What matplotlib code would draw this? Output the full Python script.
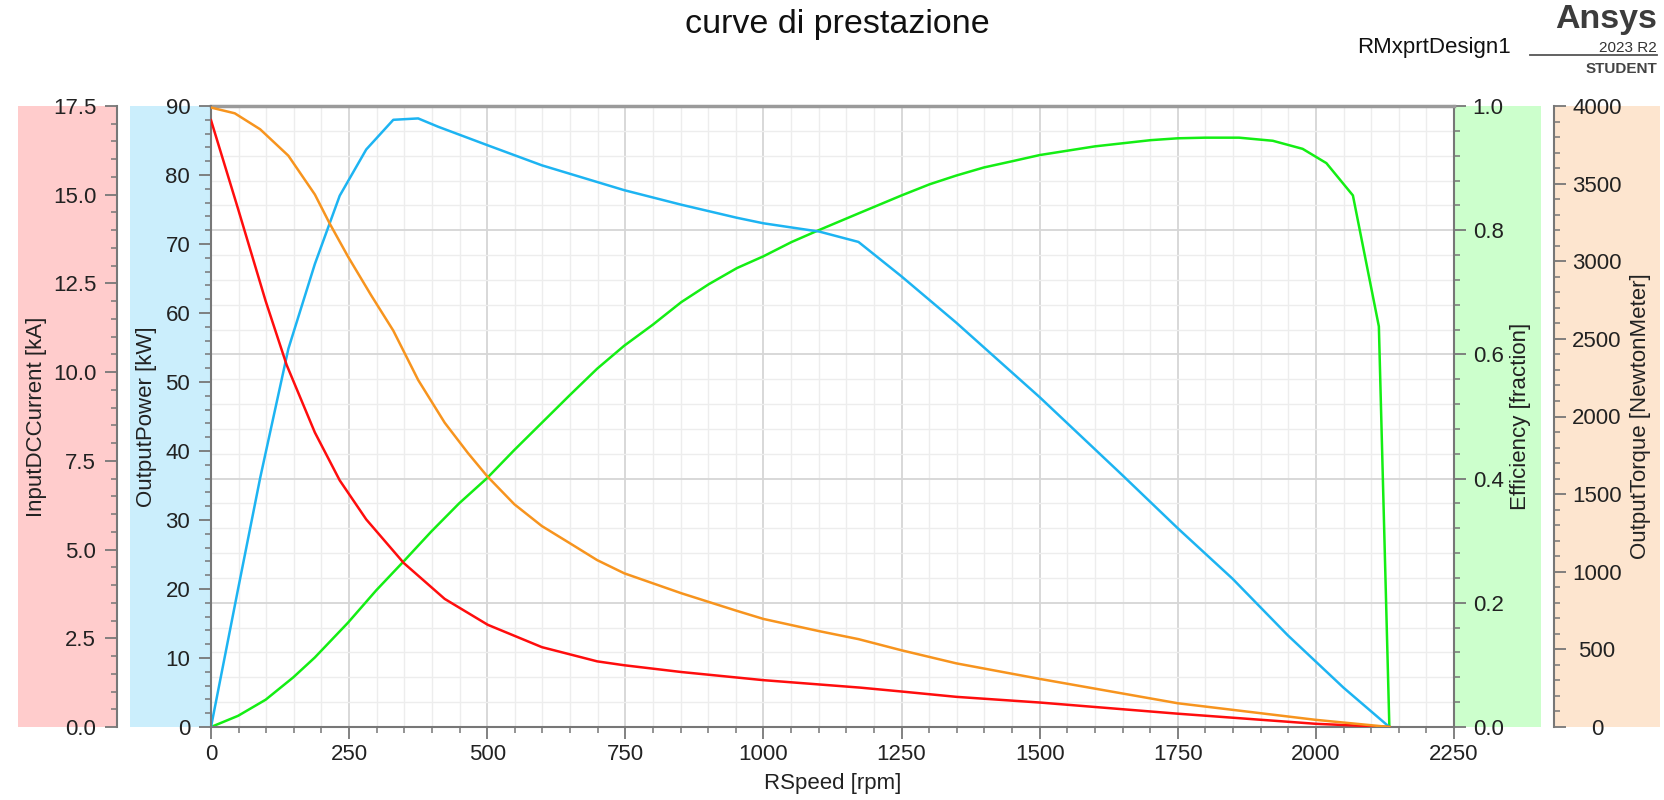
import matplotlib
matplotlib.use("Agg")
import matplotlib.pyplot as plt
from matplotlib.patches import Rectangle
from matplotlib.lines import Line2D
from matplotlib.ticker import MultipleLocator, FormatStrFormatter

plt.rcParams["font.family"] = ["Liberation Sans", "DejaVu Sans"]

# values
power_rpm = [0, 49, 89, 140, 188, 233, 281, 330, 375, 411, 501, 599, 748, 851,
             952, 1000, 1101, 1172, 1250, 1349, 1451, 1500, 1651, 1750, 1849,
             1949, 2050, 2133]
power_kw = [0, 20.0, 36.1, 54.8, 67.1, 77.0, 83.7, 88.0, 88.2, 87.0, 84.3, 81.4,
            77.8, 75.7, 73.8, 73.0, 71.8, 70.3, 65.3, 58.6, 51.3, 47.8, 36.4,
            28.8, 21.5, 13.3, 5.7, 0]

current_rpm = [0, 49, 99, 137, 188, 233, 281, 349, 423, 501, 599, 699, 748, 851,
               1000, 1100, 1175, 1250, 1349, 1500, 1750, 2000, 2133]
current_ka = [17.1, 14.6, 12.0, 10.2, 8.3, 6.95, 5.85, 4.62, 3.61, 2.88, 2.25,
              1.85, 1.74, 1.55, 1.32, 1.20, 1.11, 1.0, 0.85, 0.69, 0.375, 0.09, 0]

torque_rpm = [0, 43, 89, 140, 188, 215, 248, 290, 330, 375, 423, 465, 500, 549,
              599, 649, 699, 748, 851, 952, 1000, 1100, 1172, 1250, 1349, 1450,
              1500, 1750, 2000, 2133]
torque_nm = [3990, 3953, 3850, 3680, 3430, 3242, 3030, 2780, 2553, 2235, 1960,
             1765, 1615, 1435, 1294, 1185, 1075, 990, 862, 748, 696, 618, 566,
             494, 410, 343, 310, 153, 46, 0]

eff_rpm = [0, 49, 99, 149, 188, 248, 299, 349, 399, 449, 500, 549, 599, 649, 699,
           748, 800, 851, 901, 952, 1000, 1051, 1100, 1172, 1250, 1301, 1349,
           1399, 1450, 1500, 1600, 1701, 1750, 1799, 1861, 1922, 1976, 2019,
           2067, 2114, 2133]
eff_frac = [0, 0.018, 0.044, 0.080, 0.112, 0.168, 0.220, 0.267, 0.315, 0.360,
            0.401, 0.446, 0.490, 0.534, 0.577, 0.614, 0.648, 0.684, 0.713, 0.739,
            0.758, 0.781, 0.800, 0.827, 0.856, 0.874, 0.888, 0.901, 0.911, 0.921,
            0.935, 0.945, 0.948, 0.949, 0.949, 0.944, 0.931, 0.908, 0.856,
            0.645, 0]

W, H = 1665, 800
L, R, T, B = 211, 1454, 106, 727   # plot box in pixels
SPINE = "#777777"
TXT = "#222222"


def fx(px):
    return px / W


def fy(py):
    return 1 - py / H


def ax_x(px):
    return (px - L) / (R - L)


fig = plt.figure(figsize=(W / 100, H / 100), dpi=100)
ax = fig.add_axes([fx(L), fy(B), (R - L) / W, (B - T) / H])

# coloured bands behind each y axis
for x0, x1, c in [(18, 117, "#ffcccc"), (130, 211, "#cbeefc"),
                  (1455, 1541, "#ccffcc"), (1553, 1660, "#fde5cf")]:
    fig.add_artist(Rectangle((fx(x0), fy(B)), (x1 - x0) / W, (B - T) / H,
                             transform=fig.transFigure, facecolor=c,
                             edgecolor="none", zorder=-5))


def tick_style(a):
    a.tick_params(which="both", direction="out", colors=SPINE,
                  labelcolor=TXT, labelsize=16)
    a.tick_params(which="major", length=8.5, width=1.3)
    a.tick_params(which="minor", length=4, width=1.1)


def make_twin(side, spine_px, ylim, major, minor, fmt, label, label_px, pad):
    t = ax.twinx()
    for s in ("top", "bottom", "left", "right"):
        t.spines[s].set_visible(False)
    sp = t.spines[side]
    sp.set_visible(True)
    sp.set_position(("axes", ax_x(spine_px)))
    sp.set_color(SPINE)
    sp.set_linewidth(1.5)
    t.yaxis.set_ticks_position(side)
    t.yaxis.set_label_position(side)
    t.set_ylim(*ylim)
    t.yaxis.set_major_locator(MultipleLocator(major))
    t.yaxis.set_minor_locator(MultipleLocator(minor))
    t.yaxis.set_major_formatter(FormatStrFormatter(fmt))
    tick_style(t)
    t.tick_params(axis="y", pad=pad)
    t.set_ylabel(label, fontsize=16, color=TXT)
    t.yaxis.set_label_coords(ax_x(label_px), 0.5)
    t.yaxis.label.set_va("center")
    return t


ax_pow = make_twin("left", L, (0, 90), 10, 2, "%d",
                   "OutputPower [kW]", 147, 6.5)
ax_cur = make_twin("left", 117, (0, 17.5), 2.5, 0.5, "%.1f",
                   "InputDCCurrent [kA]", 37, 6.5)
ax_trq = make_twin("right", 1554, (0, 4000), 500, 100, "%d",
                   "OutputTorque [NewtonMeter]", 1641, 22.5)
plt.setp(ax_trq.get_yticklabels(), ha="center")

# base axes: speed on x, efficiency on the right, grid follows efficiency
# (set after twinx, which moves the parent's ticks to the left)
ax.set_xlim(0, 2250)
ax.set_ylim(0, 1)
ax.xaxis.set_major_locator(MultipleLocator(250))
ax.xaxis.set_minor_locator(MultipleLocator(50))
ax.yaxis.set_major_locator(MultipleLocator(0.2))
ax.yaxis.set_minor_locator(MultipleLocator(0.04))
ax.yaxis.set_major_formatter(FormatStrFormatter("%.1f"))
ax.spines["left"].set_visible(False)
ax.spines["top"].set_color("#9a9a9a")
ax.spines["top"].set_linewidth(2.5)
for s in ("right", "bottom"):
    ax.spines[s].set_color(SPINE)
    ax.spines[s].set_linewidth(1.5)
tick_style(ax)
ax.yaxis.tick_right()
ax.yaxis.set_label_position("right")
ax.tick_params(axis="x", pad=4)
ax.tick_params(axis="y", pad=5)
ax.grid(True, which="major", color="#d6d6d6", lw=1.3)
ax.grid(True, which="minor", color="#ededed", lw=1.0)
ax.set_axisbelow(True)
ax.plot(eff_rpm, eff_frac, color="#14ee14", lw=1.8)
ax.set_xlabel("RSpeed [rpm]", fontsize=16, color=TXT)
ax.xaxis.set_label_coords(0.5, -(783 - B) / (B - T))
ax.xaxis.label.set_va("center")
ax.set_ylabel("Efficiency [fraction]", fontsize=16, color=TXT)
ax.yaxis.set_label_coords(ax_x(1521), 0.5)
ax.yaxis.label.set_va("center")

ax_pow.plot(power_rpm, power_kw, color="#1db4f2", lw=1.8)
ax_trq.plot(torque_rpm, torque_nm, color="#f7941e", lw=1.8)
ax_cur.plot(current_rpm, current_ka, color="#ff0d0d", lw=1.8)

# header texts
fig.text(fx(837), fy(33), "curve di prestazione", ha="center", va="baseline",
         fontsize=24.5, color="#111111")
fig.text(fx(1511), fy(53), "RMxprtDesign1", ha="right", va="baseline",
         fontsize=16, color="#111111")
fig.text(fx(1657), fy(28), "Ansys", ha="right", va="baseline", fontsize=24.5,
         fontweight="bold", color="#3c3c3c")
fig.text(fx(1657), fy(52), "2023 R2", ha="right", va="baseline", fontsize=11,
         color="#333333")
fig.add_artist(Line2D([fx(1530), fx(1657)], [fy(55), fy(55)],
                      transform=fig.transFigure, color="#555555", lw=1.3))
fig.text(fx(1657), fy(73), "STUDENT", ha="right", va="baseline", fontsize=11,
         fontweight="bold", color="#444444")

fig.savefig("out.png", dpi=100)
